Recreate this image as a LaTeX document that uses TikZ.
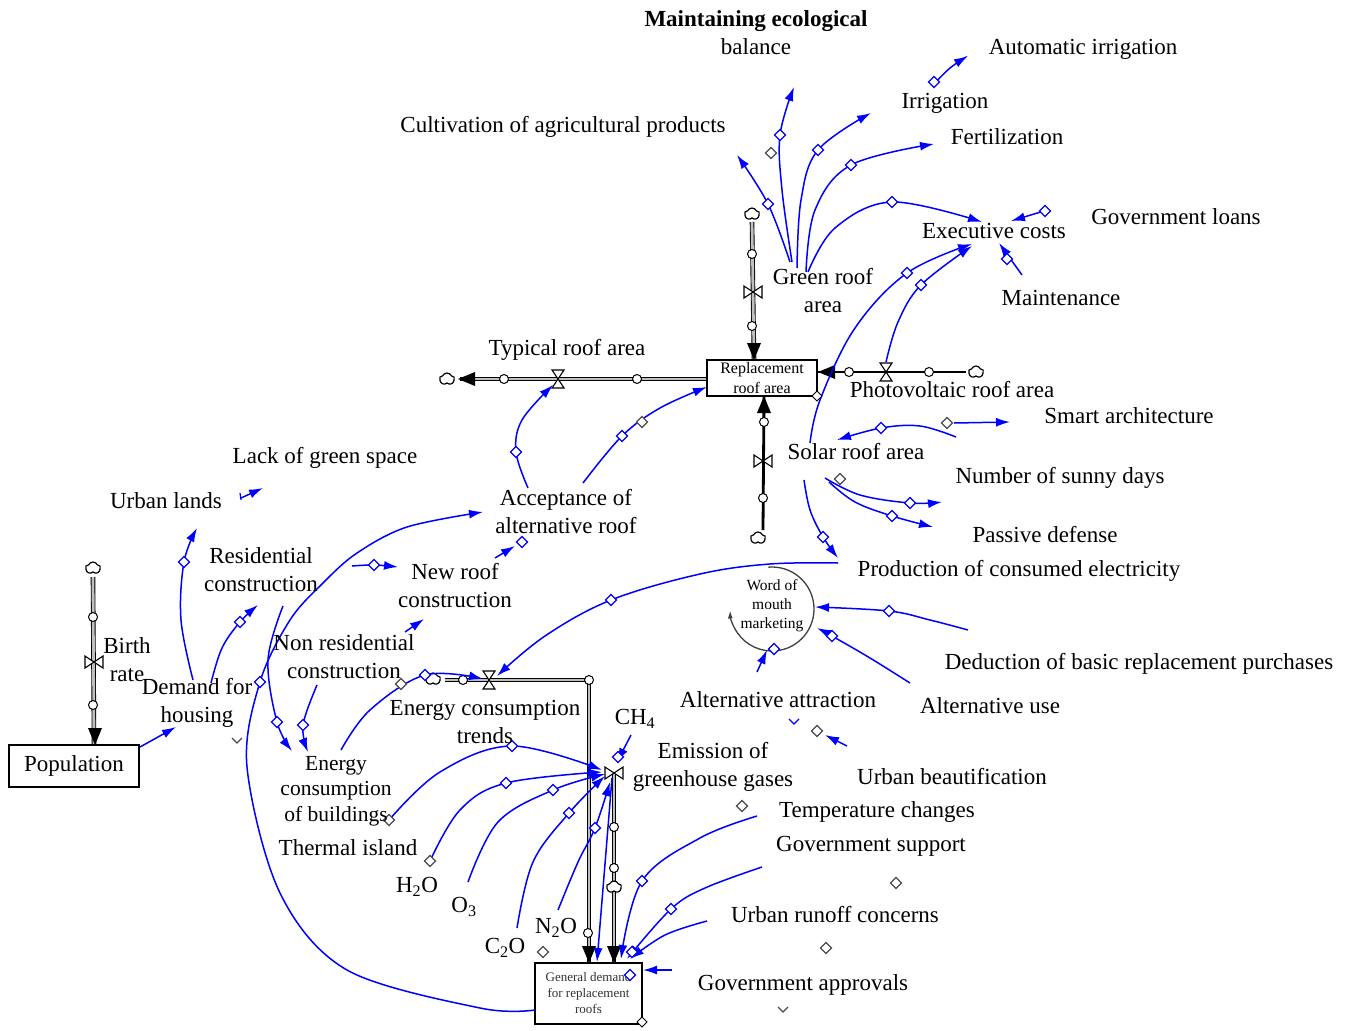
\documentclass[tikz,border=0pt]{standalone}
\usepackage{fontspec}
\setmainfont{Liberation Serif}
\usetikzlibrary{arrows.meta,shapes.symbols,shapes.geometric}
\definecolor{lk}{RGB}{0,0,255}
\newcommand\lkdia[2]{\draw[lk, line width=1.2pt, fill=white] (#1,#2) +(-5.5,0) -- +(0,-5.5) -- +(5.5,0) -- +(0,5.5) -- cycle;}
\newcommand\dkdia[2]{\draw[black!70, line width=1.3pt, fill=white] (#1,#2) +(-5.5,0) -- +(0,-5.5) -- +(5.5,0) -- +(0,5.5) -- cycle;}
\newcommand\pcirc[2]{\draw[black, line width=1pt, fill=white] (#1,#2) circle (4.5);}
\newcommand\valveh[2]{\draw[black, line width=1.1pt, fill=white] (#1,#2) +(-6,-9) -- +(6,-9) -- +(-6,9) -- +(6,9) -- cycle;}
\newcommand\valvev[2]{\draw[black, line width=1.1pt, fill=white] (#1,#2) +(-9,-6) -- +(-9,6) -- +(9,-6) -- +(9,6) -- cycle;}
\newcommand\ptipd[2]{\fill[black] (#1,#2) -- +(-7,-17) -- +(7,-17) -- cycle;}
\newcommand\ptipu[2]{\fill[black] (#1,#2) -- +(-7,17) -- +(7,17) -- cycle;}
\newcommand\ptipl[2]{\fill[black] (#1,#2) -- +(17,-7) -- +(17,7) -- cycle;}
\begin{document}
\begin{tikzpicture}[x=1pt,y=-1pt,
  lbl/.style={font=\fontsize{23}{28}\selectfont, align=center, inner sep=0pt},
  link/.style={draw=lk, line width=1.5pt, -{Latex[length=14pt,width=9pt]}},
  pipe/.style={draw=black, line width=0.9pt, double=black!25, double distance=2.8pt, line join=miter},
  tpipe/.style={draw=black, line width=2.8pt},
  cloudsym/.style={cloud, cloud puffs=5, cloud puff arc=130, aspect=1.3, draw=black, line width=1.2pt, inner sep=0pt, minimum width=15pt, minimum height=12pt, fill=white},
]
\useasboundingbox[fill=white] (0,0) rectangle (1356,1030);

% ---------- pipes (stocks and flows) ----------
\draw[pipe] (752,222) -- (754,360);
\pcirc{752}{254}\pcirc{752}{326}\valvev{753}{292}\ptipd{754}{360}
\node[cloudsym] (cl1) at (752,214) {};
\draw[pipe] (707,379) -- (460,379);
\pcirc{504}{379}\pcirc{637}{379}\valveh{558}{379}\ptipl{458}{379}
\node[cloudsym] (cl2) at (447,379) {};
\draw[tpipe] (966,372) -- (818,372);
\pcirc{849}{372}\pcirc{929}{372}\valveh{886}{372}\ptipl{818}{372}
\node[cloudsym] (cl3) at (976,372) {};
\draw[tpipe] (763,530) -- (764,396);
\pcirc{764}{422}\pcirc{763}{498}\valvev{763}{461}\ptipu{764}{396}
\node[cloudsym] (cl4) at (758,538) {};
\draw[pipe] (93,577) -- (94,745);
\pcirc{93}{617}\pcirc{93}{705}\valvev{94}{662}\ptipd{95}{745}
\node[cloudsym] (cl5) at (93,568) {};
\draw[pipe] (445,680) -- (589,680) -- (589,963);
\pcirc{463}{680}\pcirc{589}{680}\pcirc{588}{933}\valveh{489}{680}\ptipd{589}{963}
\node[cloudsym] (cl6) at (433,679) {};
\draw[pipe] (614,773) -- (614,963);
\pcirc{614}{827}\pcirc{614}{868}\ptipd{614}{963}
\node[cloudsym] (cl7) at (614,887) {};
\valvev{614}{773}

% ---------- boxes ----------
\node[draw, line width=1.3pt, fill=white, minimum width=110pt, minimum height=36pt, inner sep=0pt,
      font=\fontsize{16}{20}\selectfont, align=center] (repl) at (762,378) {Replacement\\roof area};
\node[draw, line width=1.5pt, fill=white, minimum width=130pt, minimum height=42pt, inner sep=0pt,
      font=\fontsize{23}{28}\selectfont] (pop) at (74,766) {Population};
\node[draw, line width=1.5pt, fill=white, minimum width=107pt, minimum height=61pt, inner sep=0pt,
      font=\fontsize{13}{16}\selectfont, align=center, text=black!80] (gen) at (588.5,993.5) {General demand\\for replacement\\roofs};

% ---------- word of mouth loop ----------
\draw[black!75, line width=1.3pt, -{Latex[length=8pt,width=5pt]}] (772,609) ++(-95:42) arc[start angle=-95, end angle=178, radius=42];
\node[font=\fontsize{15.5}{19}\selectfont, align=center, inner sep=0pt] (wom) at (772,606) {Word of\\mouth\\marketing};

% ---------- blue causal links ----------
\draw[link] plot[smooth, tension=0.6] coordinates {(790,262) (768,204) (737,155)};
\draw[link] plot[smooth, tension=0.6] coordinates {(792,262) (782,190) (780,135) (794,87)};
\draw[link] plot[smooth, tension=0.6] coordinates {(797,268) (801,200) (818,150) (871,113)};
\draw[link] plot[smooth, tension=0.6] coordinates {(806,272) (815,210) (851,165) (934,144)};
\draw[link] plot[smooth, tension=0.6] coordinates {(808,272) (835,228) (892,202) (982,222)};
\lkdia{768}{204}\lkdia{780}{135}\lkdia{818}{150}\lkdia{851}{165}\lkdia{892}{202}
\dkdia{771}{153}
\draw[link] plot[smooth, tension=0.6] coordinates {(934,84) (950,68) (968,56)};
\lkdia{934}{82}
\draw[link] (1044,211) -- (1011,221);
\lkdia{1045}{211}
\draw[link] (1022,275) -- (999,243);
\lkdia{1007}{259}
\draw[link] plot[smooth, tension=0.6] coordinates {(810,443) (820,400) (855,328) (907,273) (972,244)};
\draw[link] plot[smooth, tension=0.6] coordinates {(886,362) (898,322) (921,285) (972,246)};
\lkdia{907}{273}\lkdia{921}{285}
\draw[link] (954,423) -- (1010,422);
\dkdia{947}{423}
\draw[link] plot[smooth, tension=0.6] coordinates {(956,437) (920,426) (881,428) (837,440)};
\lkdia{881}{428}
\draw[link] plot[smooth, tension=0.6] coordinates {(825,478) (860,495) (910,503) (942,502)};
\lkdia{910}{503}\dkdia{840}{479}
\draw[link] plot[smooth, tension=0.6] coordinates {(829,482) (855,502) (892,516) (933,527)};
\lkdia{892}{516}
\draw[link] plot[smooth, tension=0.6] coordinates {(804,480) (810,510) (823,537) (838,558)};
\lkdia{823}{537}
\draw[link] plot[smooth, tension=0.6] coordinates {(838,563) (770,564) (700,574) (611,600) (545,636) (497,676)};
\lkdia{611}{600}
\draw[link] plot[smooth, tension=0.6] coordinates {(968,630) (930,620) (889,611) (815,607)};
\lkdia{889}{611}
\draw[link] plot[smooth, tension=0.6] coordinates {(910,683) (870,658) (832,636) (817,628)};
\lkdia{832}{636}
\draw[link] (757,672) -- (767,650);
\lkdia{774}{649}
\draw[link] (847,746) -- (825,735);
\dkdia{817}{731}
\draw[lk, line width=1.2pt] (789,719) -- (794,724) -- (799,719);
\draw[link] plot[smooth, tension=0.6] coordinates {(757,816) (700,838) (642,881) (621,959)};
\lkdia{642}{881}
\draw[link] plot[smooth, tension=0.6] coordinates {(762,867) (705,888) (671,909) (627,959)};
\lkdia{671}{909}
\draw[link] plot[smooth, tension=0.6] coordinates {(707,921) (665,935) (630,959)};
\lkdia{632}{952}
\draw[link] (672,970) -- (643,970);
\lkdia{630}{975}
\dkdia{742}{806}\dkdia{896}{883}\dkdia{826}{948}\dkdia{543}{952}
\draw[black!70, line width=1.2pt] (778,1007) -- (783,1012) -- (788,1007);
\draw[black, line width=1pt, fill=white] (642,1022) +(-5,0) -- +(0,-5) -- +(5,0) -- +(0,5) -- cycle;
\draw[black, line width=1pt, fill=white] (817,396) +(-5,0) -- +(0,-5) -- +(5,0) -- +(0,5) -- cycle;
\draw[link] plot[smooth, tension=0.6] coordinates {(389,820) (440,772) (512,746) (602,770)};
\lkdia{512}{746}\dkdia{389}{820}
\draw[link] plot[smooth, tension=0.6] coordinates {(430,861) (460,810) (506,783) (602,772)};
\lkdia{506}{783}\dkdia{430}{861}
\draw[link] plot[smooth, tension=0.6] coordinates {(468,882) (498,822) (553,790) (605,774)};
\lkdia{553}{790}
\draw[link] plot[smooth, tension=0.6] coordinates {(517,928) (533,862) (569,813) (605,776)};
\lkdia{569}{813}
\draw[link] plot[smooth, tension=0.6] coordinates {(558,910) (578,862) (595,828) (610,782)};
\lkdia{595}{828}
\draw[link] (631,735) -- (617,762);
\lkdia{618}{757}
\draw[link] (612,778) -- (597,962);
\draw[link] plot[smooth, tension=0.55] coordinates {(535,1010) (480,1008) (347,970) (280,893) (247,767) (260,682) (290,620) (323,583) (357,553) (407,527) (483,512)};
\lkdia{260}{682}
\draw[link] (140,747) -- (176,727);
\draw[link] plot[smooth, tension=0.6] coordinates {(193,680) (181,620) (184,562) (197,528)};
\lkdia{184}{562}
\draw[link] plot[smooth, tension=0.6] coordinates {(211,683) (222,648) (240,622) (258,605)};
\lkdia{240}{622}
\draw[black!70, line width=1.2pt] (232,738) -- (237,743) -- (242,738);
\draw[link] (241,498) -- (263,488);
\draw[lk, line width=1.2pt] (240,493) -- (241,500);
\draw[link] plot[smooth, tension=0.6] coordinates {(283,606) (268,660) (277,722) (292,751)};
\lkdia{277}{722}
\draw[link] plot[smooth, tension=0.6] coordinates {(317,685) (303,725) (308,752)};
\lkdia{303}{725}
\draw[link] plot[smooth, tension=0.6] coordinates {(341,750) (370,710) (425,675) (483,679)};
\lkdia{425}{675}\dkdia{401}{684}
\draw[link] plot[smooth, tension=0.6] coordinates {(352,566) (374,565) (398,567)};
\lkdia{374}{565}
\draw[link] (405,632) -- (424,619);
\draw[link] (495,558) -- (515,546);
\lkdia{522}{542}
\draw[link] plot[smooth, tension=0.6] coordinates {(528,488) (516,452) (522,420) (553,385)};
\lkdia{516}{452}
\draw[link] plot[smooth, tension=0.6] coordinates {(583,483) (622,436) (660,408) (707,387)};
\lkdia{622}{436}\dkdia{642}{422}

% ---------- labels ----------
\node[lbl] (meb) at (756,33) {\textbf{Maintaining ecological}\\balance};
\node[lbl] (autoirr) at (1083,49) {Automatic irrigation};
\node[lbl] (irr) at (945,103) {Irrigation};
\node[lbl] (fert) at (1007,137) {Fertilization};
\node[lbl] (cult) at (563,127) {Cultivation of agricultural products};
\node[lbl] (govloans) at (1176,217) {Government loans};
\node[lbl] (exec) at (994,231) {Executive costs};
\node[lbl] (green) at (823,291) {Green roof\\area};
\node[lbl] (maint) at (1061,298) {Maintenance};
\node[lbl] (typical) at (567,350) {Typical roof area};
\node[lbl] (pv) at (952,390) {Photovoltaic roof area};
\node[lbl] (smart) at (1129,416) {Smart architecture};
\node[lbl] (solar) at (856,452) {Solar roof area};
\node[lbl] (sunny) at (1060,478) {Number of sunny days};
\node[lbl] (lack) at (325,458) {Lack of green space};
\node[lbl] (urban) at (166,501) {Urban lands};
\node[lbl] (accept) at (566,512) {Acceptance of\\alternative roof};
\node[lbl] (passive) at (1045,535) {Passive defense};
\node[lbl] (resid) at (261,570) {Residential\\construction};
\node[lbl] (newroof) at (455,586) {New roof\\construction};
\node[lbl] (prod) at (1019,571) {Production of consumed electricity};
\node[lbl] (nonres) at (344,657) {Non residential\\construction};
\node[lbl] (birth) at (127,660) {Birth\\rate};
\node[lbl] (demand) at (197,703) {Demand for\\housing};
\node[lbl] (trends) at (485,722) {Energy consumption\\trends};
\node[lbl] (ch4) at (635,719) {CH\textsubscript{4}};
\node[lbl] (altattr) at (778,700) {Alternative attraction};
\node[lbl] (altuse) at (990,706) {Alternative use};
\node[lbl] (deduct) at (1139,664) {Deduction of basic replacement purchases};
\node[lbl, font=\fontsize{21.5}{25.5}\selectfont] (ecb) at (336,791) {Energy\\consumption\\of buildings};
\node[lbl] (emission) at (713,767) {Emission of\\greenhouse gases};
\node[lbl] (beaut) at (952,777) {Urban beautification};
\node[lbl] (temp) at (877,812) {Temperature changes};
\node[lbl] (govsup) at (871,846) {Government support};
\node[lbl] (thermal) at (348,848) {Thermal island};
\node[lbl] (h2o) at (417,887) {H\textsubscript{2}O};
\node[lbl] (o3) at (464,907) {O\textsubscript{3}};
\node[lbl] (n2o) at (556,928) {N\textsubscript{2}O};
\node[lbl] (c2o) at (505,948) {C\textsubscript{2}O};
\node[lbl] (runoff) at (835,915) {Urban runoff concerns};
\node[lbl] (approvals) at (803,985) {Government approvals};
\end{tikzpicture}
\end{document}
